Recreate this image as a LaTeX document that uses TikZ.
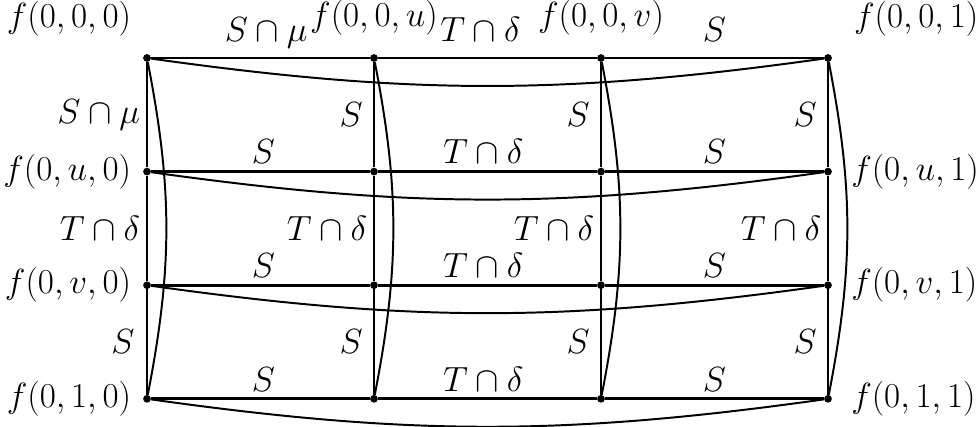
\documentclass[tikz,border=0pt]{standalone}
\usepackage{amsmath}
\usetikzlibrary{positioning}

\begin{document}
\begin{tikzpicture}[
            font=\Huge,
            dot/.style={circle, fill, inner sep=0pt, minimum size=5.5pt},
            grid_edge/.style={line width=1.9pt},
            arc_edge/.style={line width=1.4pt},
            vertex_label/.style={inner sep=2pt},
            row_label/.style={midway, anchor=base, inner sep=0pt, yshift=5.5pt},
            top_label/.style={midway, anchor=base, inner sep=0pt, yshift=11.5pt},
            col_label/.style={midway, left=2pt, inner sep=2pt}
        ]
            \useasboundingbox (0,0) rectangle (24.475,-10.65);
            % The grid points
            \foreach \i in {1,...,4}
                \foreach \j in {1,...,4}
                    \node[dot] (p-\i-\j) at ({3.675+5.675*(\j-1)},{-1.45-2.84*(\i-1)}) {};

            % Names of the grid points
            \node[vertex_label, above left=0.4cm and 0.25cm of p-1-1] (l-00-0) {$f(0,0,0)$};
            \node[vertex_label, above=0.38cm of p-1-2] (l-00-u) {$f(0,0,u)$};
            \node[vertex_label, above=0.38cm of p-1-3] (l-00-v) {$f(0,0,v)$};
            \node[vertex_label, above right=0.4cm and 0.5cm of p-1-4] (l-00-1) {$f(0,0,1)$};
            \node[vertex_label, left=0.22cm of p-2-1] (l-0u-0) {$f(0,u,0)$};
            \node[vertex_label, left=0.22cm of p-3-1] (l-0v-0) {$f(0,v,0)$};
            \node[vertex_label, left=0.22cm of p-4-1] (l-01-0) {$f(0,1,0)$};
            \node[vertex_label, right=0.4cm of p-2-4] (l-0u-1) {$f(0,u,1)$};
            \node[vertex_label, right=0.4cm of p-3-4] (l-0v-1) {$f(0,v,1)$};
            \node[vertex_label, right=0.4cm of p-4-4] (l-01-1) {$f(0,1,1)$};

            % Straight edges along the rows
            \draw[grid_edge] (p-1-1) -- node[top_label, xshift=4pt] {$S\cap\mu$} (p-1-2)
                -- node[top_label, xshift=-5pt] {$T\cap\delta$} (p-1-3)
                -- node[top_label] {$S$} (p-1-4);
            \foreach \i in {2,3,4}
                \draw[grid_edge] (p-\i-1) -- node[row_label, xshift=2pt] {$S$} (p-\i-2)
                    -- node[row_label, xshift=-3pt] {$T\cap\delta$} (p-\i-3)
                    -- node[row_label] {$S$} (p-\i-4);

            % Straight edges along the columns
            \draw[grid_edge] (p-1-1) -- node[col_label] {$S\cap\mu$} (p-2-1)
                -- node[col_label] {$T\cap\delta$} (p-3-1)
                -- node[col_label, xshift=-4pt] {$S$} (p-4-1);
            \foreach \j in {2,3,4}
                \draw[grid_edge] (p-1-\j) -- node[col_label, xshift=-3pt] {$S$} (p-2-\j)
                    -- node[col_label] {$T\cap\delta$} (p-3-\j)
                    -- node[col_label, xshift=-3pt] {$S$} (p-4-\j);

            % Long arcs
            \foreach \i in {1,...,4}
                \draw[arc_edge] (p-\i-1) to[bend right=8] (p-\i-4);
            \foreach \j in {1,...,4}
                \draw[arc_edge] (p-1-\j) to[bend left=11] (p-4-\j);
        \end{tikzpicture}
\end{document}
